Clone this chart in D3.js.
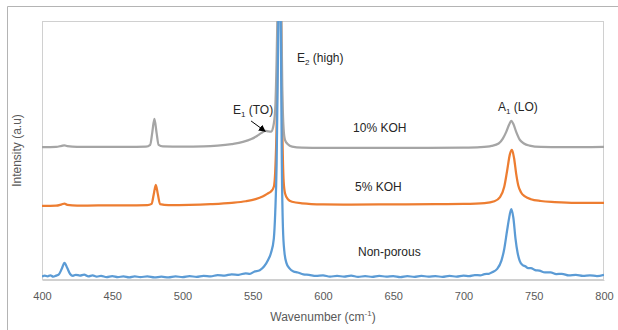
<!DOCTYPE html>
<html>
<head>
<meta charset="utf-8">
<script src="https://cdn.jsdelivr.net/npm/d3@7"></script>
<style>
  body { margin: 0; background: #fff; }
  text { font-family: "Liberation Sans", Arial, sans-serif; }
</style>
</head>
<body>
<div id="chart"></div>
<script>
// Raman spectra, arbitrary intensity units (offset per sample as in the figure)
var xTicks = [400, 450, 500, 550, 600, 650, 700, 750, 800];

var nonPorous = [[400,1.3],[402,1.7],[404,1.4],[406,1.8],[408,1.3],[410,1.7],[412,2.2],[414,4.2],[416,6.6],[418,4.6],[420,2.3],
  [422,1.6],[424,2.0],[427,1.7],[430,2.1],[433,1.4],[436,1.8],[439,1.3],[442,1.6],[446,1.1],[450,1.5],[454,1.1],
  [458,1.4],[462,1.0],[466,1.4],[470,1.1],[475,1.4],[480,1.0],[485,1.3],[490,1.0],[495,1.4],[500,1.1],[505,1.5],
  [510,1.2],[515,1.6],[520,1.4],[525,1.9],[530,1.7],[535,2.2],[540,2.0],[545,2.6],[548,2.4],[551,3.2],[555,3.8],
  [558,5.2],[561,7.8],[563,10.5],[565,16],[566,26],[567,45],[568,90],[569,130],[570,95],[570.7,45],[571.5,20],
  [572.5,11],[574,6.5],[576,4.6],[579,3.3],[582,2.9],[586,2.2],[590,2.0],[595,1.6],[600,1.8],[605,1.3],[610,1.6],
  [615,1.3],[620,1.7],[625,1.2],[630,1.5],[635,1.2],[640,1.6],[645,1.3],[650,1.5],[655,1.1],[660,1.5],[665,1.2],
  [670,1.6],[675,1.3],[680,1.5],[685,1.2],[690,1.6],[695,1.3],[700,1.7],[704,1.5],[708,1.9],[712,1.8],[715,2.3],
  [718,2.4],[720,2.9],[724,4.3],[727,7.5],[729,12],[731,19],[732.5,24],[734,27.4],[735.5,24],[737,16],[738.5,10.5],
  [740,7.4],[742,5.8],[744,5.3],[746,4.6],[748,4.6],[751,3.8],[754,3.6],[758,2.9],[762,2.9],[766,2.3],[770,2.4],
  [775,1.8],[780,2.0],[785,1.6],[790,1.8],[795,1.5],[800,2.0]];

var koh5 = [[400,28.6],[410,28.7],[414,29.2],[416,29.5],[418,29.0],[425,28.7],[440,28.8],[460,28.8],
  [475,28.9],[478,29.4],[479.5,33],[481,36.7],[482.5,33],[484,29.3],[490,28.9],[505,29.0],[520,29.3],
  [535,29.8],[545,30.4],[552,31.2],[557,32.2],[561,33.5],[563,34.2],[565,36],[566,42],[567,60],
  [568,100],[569,140],[570,110],[571,60],[572,38],[573,33.4],[575,31.2],[578,30.2],[585,29.6],
  [600,29.2],[620,29.1],[650,29.2],[680,29.3],[700,29.4],[715,29.7],[722,30.4],[726,32],[729,36],
  [731,42],[733,48.5],[734.5,50.2],[736,47],[737.5,41],[739,36.5],[741,33.8],[744,32.2],[748,31.2],
  [755,30.5],[765,30.1],[780,29.8],[800,29.8]];

var koh10 = [[400,51.3],[410,51.4],[414,51.8],[416,52.0],[418,51.7],[425,51.4],[440,51.4],[460,51.4],
  [474,51.5],[477,52.2],[478.5,57],[480,62.2],[481.5,57],[483,52.2],[486,51.6],[500,51.5],[515,51.6],
  [525,51.9],[535,52.5],[543,53.3],[549,54.4],[553,55.6],[556,56.7],[559,57.6],[561,57.4],[563,57.3],
  [564.5,59],[566,66],[567,85],[568,115],[569,150],[570,120],[571,75],[572,58],[573,54],[575,52.4],
  [578,51.5],[585,51.1],[600,51.0],[625,51.0],[650,51.0],[675,51.0],[700,51.1],[712,51.3],[720,51.8],
  [725,52.7],[728,54.6],[730.5,57.3],[732.5,60],[734,61.4],[735.5,60.2],[737.5,57.2],[740,54.2],
  [743,52.7],[747,51.9],[755,51.4],[770,51.3],[785,51.3],[800,51.4]];

var seriesNames = ["Non-porous", "5% KOH", "10% KOH"];
var seriesData = [nonPorous, koh5, koh10];
var seriesColors = ["#5B9BD5", "#ED7D31", "#A5A5A5"];

// annotation anchors (wavenumber, intensity)
var labels = [
  { text: "10% KOH", x: 621.4, y: 57.1 },
  { text: "5% KOH", x: 622.8, y: 34.4 },
  { text: "Non-porous", x: 624.9, y: 9.3 },
  { text: "E", sub: "2", rest: " (high)", x: 581.5, y: 84.2 },
  { text: "E", sub: "1", rest: " (TO)", x: 535.9, y: 64.1 },
  { text: "A", sub: "1", rest: " (LO)", x: 724.6, y: 65.3 }
];
var arrowFrom = [548.8, 61.4], arrowTo = [558.9, 57.4];

var width = 618, height = 330;
var margin = { top: 21, right: 14, bottom: 50, left: 42 };

var svg = d3.select("#chart").append("svg")
  .attr("width", width).attr("height", height);

svg.append("rect").attr("width", width).attr("height", height).attr("fill", "#fff");

// outer chart frame (only left and top visible in crop)
svg.append("path")
  .attr("d", "M7.5," + height + "V6.5H" + width)
  .attr("fill", "none").attr("stroke", "#b4b4b4").attr("stroke-width", 1);

var x = d3.scaleLinear().domain([400, 800]).range([margin.left, width - margin.right]);
var y = d3.scaleLinear().domain([0, 100]).range([height - margin.bottom, margin.top]);

// plot area border
svg.append("rect")
  .attr("x", margin.left + 0.5).attr("y", margin.top + 0.5)
  .attr("width", width - margin.left - margin.right - 1)
  .attr("height", height - margin.top - margin.bottom - 1)
  .attr("fill", "none").attr("stroke", "#d0d0d0");

svg.append("defs").append("clipPath").attr("id", "clip")
  .append("rect")
  .attr("x", margin.left).attr("y", margin.top)
  .attr("width", width - margin.left - margin.right)
  .attr("height", height - margin.top - margin.bottom);

var line = d3.line()
  .x(function(d) { return x(d[0]); })
  .y(function(d) { return y(d[1]); })
  .curve(d3.curveMonotoneX);

// draw orange first, then grey, blue on top like the figure
var order = [1, 2, 0];
svg.append("g").attr("clip-path", "url(#clip)")
  .selectAll("path").data(order).enter().append("path")
  .attr("d", function(i) { return line(seriesData[i]); })
  .attr("fill", "none")
  .attr("stroke", function(i) { return seriesColors[i]; })
  .attr("stroke-width", 2.25)
  .attr("stroke-linejoin", "round");

// x axis
var xAxis = svg.append("g")
  .attr("transform", "translate(0," + (height - margin.bottom) + ")")
  .call(d3.axisBottom(x).tickValues(xTicks).tickSize(0).tickPadding(12));
xAxis.select(".domain").attr("stroke", "#d0d0d0");
xAxis.selectAll("text").attr("fill", "#595959").style("font-size", "11px")
  .style("font-family", "'Liberation Sans', Arial, sans-serif");

// axis titles
var xt = svg.append("text")
  .attr("x", (margin.left + width - margin.right) / 2).attr("y", 321)
  .attr("text-anchor", "middle").attr("fill", "#595959").style("font-size", "12px");
xt.append("tspan").text("Wavenumber (cm");
xt.append("tspan").attr("dy", -5).style("font-size", "8px").text("-1");
xt.append("tspan").attr("dy", 5).text(")");

svg.append("text")
  .attr("transform", "translate(21," + ((margin.top + height - margin.bottom) / 2) + ") rotate(-90)")
  .attr("text-anchor", "middle").attr("fill", "#595959").style("font-size", "12px")
  .text("Intensity (a.u)");

// annotations
var ann = svg.append("g").selectAll("text").data(labels).enter().append("text")
  .attr("x", function(d) { return x(d.x); })
  .attr("y", function(d) { return y(d.y); })
  .attr("fill", "#262626").style("font-size", "12px");
ann.append("tspan").text(function(d) { return d.text; });
ann.filter(function(d) { return d.sub; }).append("tspan")
  .attr("dy", 3).style("font-size", "8px").text(function(d) { return d.sub; });
ann.filter(function(d) { return d.rest; }).append("tspan")
  .attr("dy", -3).text(function(d) { return d.rest; });

// arrow for E1 (TO)
svg.append("defs").append("marker").attr("id", "arrow")
  .attr("viewBox", "0 0 10 10").attr("refX", 9).attr("refY", 5)
  .attr("markerWidth", 7).attr("markerHeight", 7).attr("orient", "auto")
  .append("path").attr("d", "M0,0L10,5L0,10z").attr("fill", "#000");
svg.append("line")
  .attr("x1", x(arrowFrom[0])).attr("y1", y(arrowFrom[1]))
  .attr("x2", x(arrowTo[0])).attr("y2", y(arrowTo[1]))
  .attr("stroke", "#000").attr("stroke-width", 1)
  .attr("marker-end", "url(#arrow)");
</script>
</body>
</html>
